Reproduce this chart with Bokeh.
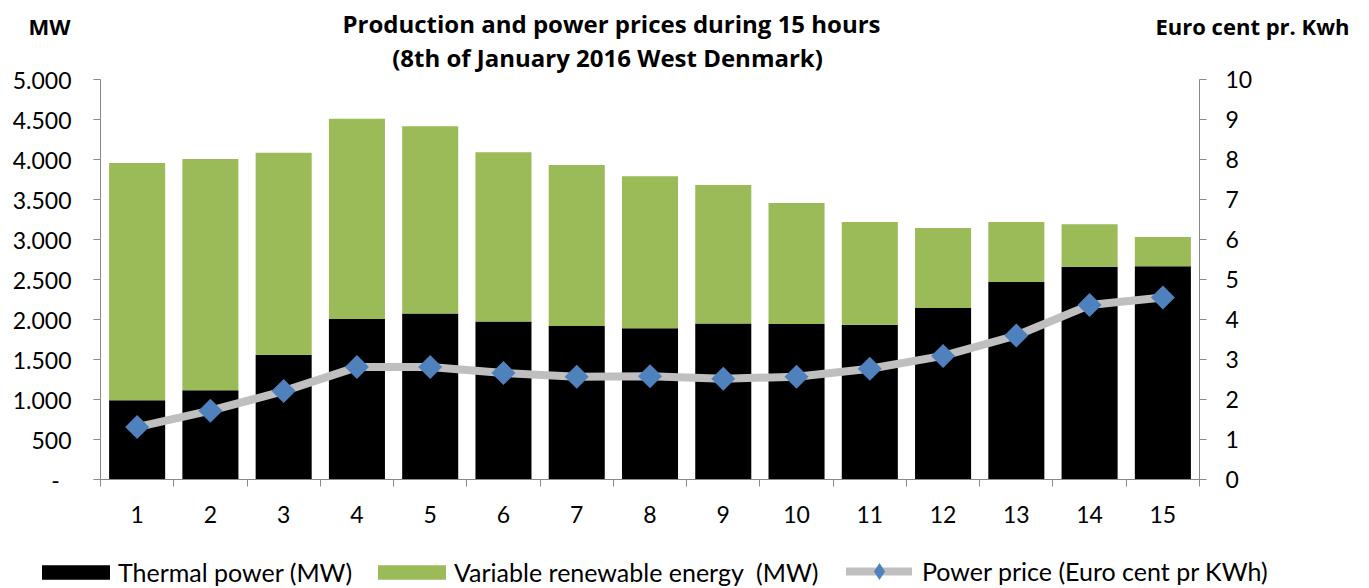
import math
from bokeh.plotting import figure
from bokeh.models import (Range1d, LinearAxis, FixedTicker, Label, Legend, LegendItem,
                          ColumnDataSource)
from bokeh.embed import file_html
from bokeh.resources import INLINE

# ---- data ----
hours = [1, 2, 3, 4, 5, 6, 7, 8, 9, 10, 11, 12, 13, 14, 15]
hour_labels = ["1", "2", "3", "4", "5", "6", "7", "8", "9", "10", "11", "12", "13", "14", "15"]
thermal_mw = [990, 1115, 1560, 2005, 2075, 1975, 1920, 1890, 1950, 1945, 1935, 2145, 2470, 2660, 2665]
renewable_mw = [2965, 2890, 2525, 2505, 2340, 2115, 2010, 1900, 1730, 1510, 1285, 1000, 750, 530, 365]
price_ct = [1.31, 1.72, 2.21, 2.81, 2.81, 2.66, 2.57, 2.58, 2.52, 2.57, 2.77, 3.09, 3.60, 4.36, 4.55]

mw_ticks = [0, 500, 1000, 1500, 2000, 2500, 3000, 3500, 4000, 4500, 5000]
mw_tick_labels = ["-\u00a0\u00a0", "500", "1.000", "1.500", "2.000", "2.500",
                  "3.000", "3.500", "4.000", "4.500", "5.000"]
price_ticks = [0, 1, 2, 3, 4, 5, 6, 7, 8, 9, 10]

title_line1 = "Production and power prices during 15 hours"
title_line2 = "(8th of January 2016 West Denmark)"
left_unit = "MW"
right_unit = "Euro cent pr. Kwh"
legend_labels = ["Thermal power (MW)", "Variable renewable energy  (MW)",
                 "Power price (Euro cent pr KWh)"]

# ---- layout / styles ----
W, H = 1369, 588
PLOT_L, PLOT_R, PLOT_T, PLOT_B = 100, 1199, 79, 479   # pixel box of the data area
FONT = "Lato"
HEAD_FONT = "Open Sans"
AXIS_COLOR = "#898989"
GREEN = "#9BBB59"
BLUE = "#4F81BD"
GREY = "#BFBFBF"

x0, x1 = hours[0] - 0.5, hours[-1] + 0.5
xpx = (PLOT_R - PLOT_L) / (x1 - x0)
x_range = Range1d(x0 - PLOT_L / xpx, x1 + (W - PLOT_R) / xpx)


def yr(lo, hi):
    upx = (hi - lo) / (PLOT_B - PLOT_T)
    return Range1d(lo - (H - PLOT_B) * upx, hi + PLOT_T * upx)


tot = [t + r for t, r in zip(thermal_mw, renewable_mw)]
src = ColumnDataSource(dict(x=hours, thermal=thermal_mw, total=tot, price=price_ct))

p = figure(frame_width=W, frame_height=H, output_backend="svg", toolbar_location=None,
           x_range=x_range, y_range=yr(mw_ticks[0], mw_ticks[-1]),
           min_border=0, outline_line_color=None, background_fill_color="white")
p.xaxis.visible = False
p.yaxis.visible = False
p.xgrid.visible = False
p.ygrid.visible = False
p.extra_y_ranges = {"price": yr(price_ticks[0], price_ticks[-1])}

r_th = p.vbar(x="x", top="thermal", bottom=0, width=0.765, source=src,
              fill_color="black", line_color=None)
r_re = p.vbar(x="x", top="total", bottom="thermal", width=0.765, source=src,
              fill_color=GREEN, line_color=None)
r_line = p.line(x="x", y="price", source=src, y_range_name="price",
                line_color=GREY, line_width=8, line_cap="round", line_join="round")
r_pts = p.scatter(x="x", y="price", source=src, y_range_name="price", marker="square",
                  angle=math.pi / 4, size=17, fill_color=BLUE, line_color=None)
# legend-only (hidden) diamond: legend glyphs do not follow the marker angle
r_leg_pt = p.scatter(x="x", y="price", source=src, y_range_name="price", marker="diamond",
                     fill_color=BLUE, line_color=None, visible=False)


def style_axis(ax):
    ax.axis_line_color = AXIS_COLOR
    ax.major_tick_line_color = AXIS_COLOR
    ax.minor_tick_line_color = AXIS_COLOR
    ax.major_label_text_font = FONT
    ax.major_label_text_font_size = "23px"
    ax.major_label_text_color = "black"
    ax.major_tick_in = 0
    ax.minor_tick_in = 0


# left axis
ax_l = LinearAxis(ticker=FixedTicker(ticks=mw_ticks, minor_ticks=[]),
                  major_label_overrides={t: l for t, l in zip(mw_ticks, mw_tick_labels)},
                  fixed_location=x0, bounds=(mw_ticks[0], mw_ticks[-1]))
style_axis(ax_l)
ax_l.major_tick_out = 7
ax_l.minor_tick_out = 0
ax_l.major_label_standoff = 22
p.add_layout(ax_l, "left")

# right axis
ax_r = LinearAxis(y_range_name="price", ticker=FixedTicker(ticks=price_ticks, minor_ticks=[]),
                  fixed_location=x1, bounds=(price_ticks[0], price_ticks[-1]))
style_axis(ax_r)
ax_r.major_tick_out = 7
ax_r.minor_tick_out = 0
ax_r.major_label_standoff = 19
p.add_layout(ax_r, "right")

# bottom axis: labels at centres, ticks at category boundaries
bounds = [h - 0.5 for h in hours] + [hours[-1] + 0.5]
ax_b = LinearAxis(ticker=FixedTicker(ticks=hours, minor_ticks=bounds),
                  major_label_overrides={h: l for h, l in zip(hours, hour_labels)},
                  fixed_location=0, bounds=(x0, x1))
style_axis(ax_b)
ax_b.major_tick_out = 0
ax_b.minor_tick_out = 7
ax_b.major_label_standoff = 19
p.add_layout(ax_b, "below")

# titles (screen units: x from left, y up from bottom of the canvas)
for txt, x, y, align, size in [(title_line1, 611, H - 23, "center", "24px"),
                               (title_line2, 607, H - 57, "center", "24px"),
                               (left_unit, 28, H - 25, "left", "22px"),
                               (right_unit, 1155, H - 25, "left", "22px")]:
    p.add_layout(Label(x=x, y=y, x_units="screen", y_units="screen", text=txt,
                       text_font=HEAD_FONT, text_font_style="bold", text_font_size=size,
                       text_align=align, text_baseline="alphabetic", text_color="black"))


def make_legend(label, renderers, x, y, gw, gh, standoff):
    lg = Legend(items=[LegendItem(label=label, renderers=renderers)],
                location=(x, y), orientation="horizontal",
                glyph_width=gw, glyph_height=gh, label_standoff=standoff,
                padding=0, margin=0, spacing=0,
                border_line_alpha=0, background_fill_alpha=0,
                label_text_font=FONT, label_text_font_size="25px", label_text_color="black")
    p.add_layout(lg, "center")


make_legend(legend_labels[0], [r_th], 33, 1, 85, 18, 0)
make_legend(legend_labels[1], [r_re], 369, 1, 85, 18, 0)
make_legend(legend_labels[2], [r_line, r_leg_pt], 846, -4, 66, 42, 10)

open("out.html", "w").write(file_html(p, INLINE))
